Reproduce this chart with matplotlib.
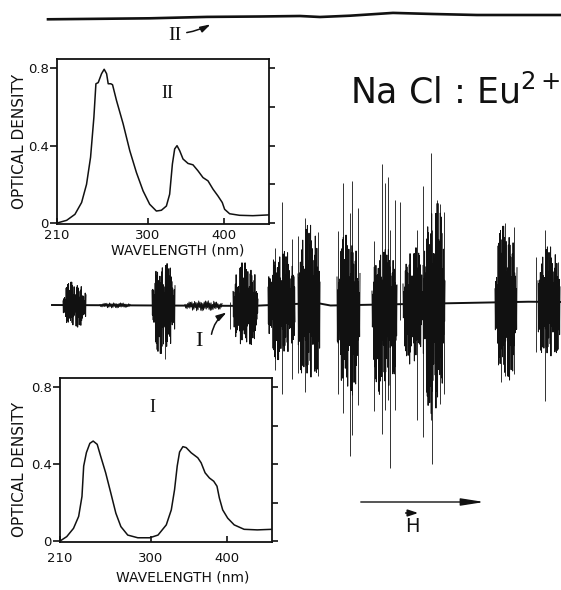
import numpy as np
import matplotlib
matplotlib.use('Agg')
import matplotlib.pyplot as plt

plt.rcParams['mathtext.default'] = 'regular'
ink = '#111111'
label_font = ['DejaVu Sans']

# absorption spectra (wavelength nm, optical density)
wl_II = [210, 219.6, 227.8, 234.4, 239.3, 243.3, 246.6, 248.6, 250.9, 254.2, 256.8, 259.2,
         260.8, 263.4, 265.1, 269, 275.6, 282.2, 288.8, 295.4, 302.6, 311.4, 318, 324.6,
         328.9, 332.5, 335.5, 338.6, 342.1, 346.5, 353.1, 359.6, 366.2, 372.8, 379.4, 386,
         392.5, 398.2, 401.3, 407.9, 421, 438.6, 459.6]
od_II = [0.0, 0.014, 0.045, 0.106, 0.20, 0.34, 0.547, 0.72, 0.726, 0.772, 0.795, 0.772,
         0.72, 0.72, 0.715, 0.634, 0.513, 0.374, 0.261, 0.166, 0.097, 0.062, 0.066, 0.088,
         0.149, 0.305, 0.383, 0.40, 0.374, 0.331, 0.308, 0.301, 0.27, 0.235, 0.218, 0.175,
         0.14, 0.106, 0.071, 0.048, 0.04, 0.038, 0.042]

wl_I = [210, 216.7, 223.4, 228.5, 231.8, 233.5, 236.2, 239.6, 242.9, 246.9, 250.3, 255.3,
        260.4, 265.4, 270.4, 277.2, 287.2, 299, 309.6, 320.5, 327.1, 331.4, 334.9, 338,
        342.4, 346.7, 353.3, 362, 366.4, 371.6, 377.3, 383, 387.3, 390.4, 394.8, 401.4,
        410, 423.1, 440.6, 460]
od_I = [0.0, 0.023, 0.066, 0.128, 0.232, 0.39, 0.46, 0.508, 0.52, 0.503, 0.442, 0.355,
        0.25, 0.145, 0.075, 0.031, 0.017, 0.017, 0.031, 0.084, 0.162, 0.267, 0.39, 0.463,
        0.491, 0.486, 0.459, 0.433, 0.407, 0.355, 0.328, 0.311, 0.285, 0.224, 0.162, 0.119,
        0.084, 0.061, 0.058, 0.061]

# recorder traces (field in chart units, signal level in chart units)
top_field = [48, 100, 150, 207, 260, 300, 320, 350, 393, 433, 477, 522, 561]
top_level = [19.3, 18.8, 18.3, 16.9, 16.5, 16, 17.0, 15.7, 12.9, 14, 15, 15, 15]

base_field = [52, 150, 250, 270, 317, 330, 483, 525, 561]
base_level = [305, 305.5, 306, 305, 303, 305.5, 302.7, 301.7, 302]

burst_start = [63, 152, 233, 268, 298, 337, 372, 403, 423, 495, 538]
burst_end = [86, 175, 258, 295, 320, 360, 397, 423, 445, 517, 560]
burst_up = [23, 42, 43, 53, 78, 70, 55, 56, 100, 76, 55]
burst_down = [22, 48, 40, 55, 82, 90, 90, 60, 110, 78, 60]

noise_start = [100, 185]
noise_end = [130, 222]
noise_amp = [2.5, 5]

spike_field = [165, 230, 275, 282, 292, 298, 305, 318, 338, 343, 350, 352, 358, 374, 382,
               385, 388, 390, 395, 400, 417, 423, 431, 432, 437, 440, 444, 501, 505, 514,
               536, 545, 558]
spike_up = [0, 4, 57, 102, 65, 68, 86, 71, 74, 122, 92, 124, 97, 64, 141, 121, 127, 74,
            104, 102, 74, 118, 151, 74, 104, 99, 91, 63, 79, 75, 45, 72, 40]
spike_down = [53, 23, 65, 90, 75, 69, 88, 73, 89, 108, 151, 130, 100, 106, 129, 106, 96,
              164, 106, 16, 116, 133, 116, 160, 90, 101, 91, 80, 74, 72, 50, 99, 47]

# hand-typed modulation of the recorder pen inside a burst
texture = [0.55, 0.9, 0.35, 1.0, 0.7, 0.45, 0.95, 0.6, 0.8, 0.3, 0.85, 1.0, 0.5, 0.75,
           0.9, 0.4, 0.65, 1.0, 0.55, 0.8, 0.95, 0.35, 0.7, 0.9, 0.6, 1.0, 0.45, 0.85,
           0.75, 0.5, 0.95, 0.65, 0.8, 0.4, 1.0, 0.7, 0.55, 0.9, 0.6, 0.85, 0.3, 0.75,
           1.0, 0.5, 0.8, 0.65, 0.9, 0.45]
taper_pos = [0, 0.12, 0.3, 0.7, 0.88, 1]
taper_val = [0.45, 0.8, 1, 1, 0.8, 0.5]

# non-linear wavelength axis of the spectrometer chart
ax_wl = [210, 300, 400, 460]
ax_pos = [0, 92, 169, 215]


def fwd(x):
    return np.interp(x, ax_wl, ax_pos)


def inv(x):
    return np.interp(x, ax_pos, ax_wl)


fig = plt.figure(figsize=(5.61, 5.90), dpi=100)
bg = fig.add_axes([0, 0, 1, 1])
bg.set_xlim(0, 561)
bg.set_ylim(590, 0)
bg.axis('off')

bg.plot(top_field, top_level, color=ink, lw=1.9)

bx = np.linspace(base_field[0], base_field[-1], 1200)
bg.plot(bx, np.interp(bx, base_field, base_level), color=ink, lw=1.4)

for s, e, a in zip(noise_start, noise_end, noise_amp):
    xs = np.linspace(s, e, int((e - s) * 1.5))
    amp = np.array([texture[i % len(texture)] for i in range(len(xs))]) * a
    amp *= np.interp(np.linspace(0, 1, len(xs)), taper_pos, taper_val)
    sign = np.where(np.arange(len(xs)) % 2 == 0, -1, 1)
    bg.plot(xs, np.interp(xs, base_field, base_level) + sign * amp, color=ink, lw=0.7)

for s, e, up, dn in zip(burst_start, burst_end, burst_up, burst_down):
    n = int((e - s) * 2.6)
    xs = np.linspace(s, e, n)
    tex = np.array([texture[(i * 7 + s) % len(texture)] for i in range(n)])
    tap = np.interp(np.linspace(0, 1, n), taper_pos, taper_val)
    amp = np.where(np.arange(n) % 2 == 0, -up, dn) * tex * tap
    bg.plot(xs, np.interp(xs, base_field, base_level) + amp, color=ink, lw=0.7)

sb = np.interp(spike_field, base_field, base_level)
bg.vlines(spike_field, sb - np.array(spike_up), sb + np.array(spike_down), color=ink, lw=0.6)

# labels on the recorder traces
bg.text(175, 35, 'II', family='Liberation Serif', fontsize=14, ha='center', va='center', color=ink)
bg.annotate('', xy=(213, 23), xytext=(184, 33),
            arrowprops=dict(arrowstyle='-|>,head_length=0.6,head_width=0.18', color=ink, lw=1.1,
                            connectionstyle='arc3,rad=0.1'))
bg.text(199, 341, 'I', family='Liberation Serif', fontsize=16, ha='center', va='center', color=ink)
bg.annotate('', xy=(229, 311), xytext=(211, 337),
            arrowprops=dict(arrowstyle='-|>,head_length=0.6,head_width=0.18', color=ink, lw=1.1,
                            connectionstyle='arc3,rad=-0.25'))

bg.text(350, 103, 'Na Cl : Eu$^{2+}$', family=label_font, fontsize=25, ha='left',
        va='baseline', color=ink)

bg.annotate('', xy=(487, 502), xytext=(358, 502),
            arrowprops=dict(arrowstyle='-|>,head_length=1.4,head_width=0.22', color=ink, lw=1.0))
bg.text(412, 527, 'H', family=label_font, fontsize=14, ha='center', va='center', color=ink)
bg.annotate('', xy=(421, 513), xytext=(403, 513),
            arrowprops=dict(arrowstyle='-|>,head_length=0.6,head_width=0.2', color=ink, lw=1.2))


def spectrum(rect, wl, od, roman, roman_xy, tick_pad, xl_xy, yl_xy):
    ax = fig.add_axes(rect)
    ax.set_xscale('function', functions=(fwd, inv))
    ax.plot(wl, od, color=ink, lw=1.1)
    ax.set_xlim(210, 460)
    ax.set_ylim(-0.005, 0.848)
    for sp in ax.spines.values():
        sp.set_linewidth(1.3)
        sp.set_color(ink)
    ax.set_xticks([210, 300, 400])
    ax.set_xticklabels(['210', '300', '400'])
    ax.xaxis.set_minor_locator(matplotlib.ticker.NullLocator())
    ax.set_yticks([0, 0.4, 0.8])
    ax.set_yticklabels(['0', '0.4', '0.8'])
    ax.tick_params(axis='x', direction='in', length=4.5, width=1.2, pad=tick_pad,
                   labelsize=9.5, colors=ink)
    ax.tick_params(axis='y', direction='out', length=5, width=1.2, pad=1,
                   labelsize=9.5, colors=ink)
    right = ax.secondary_yaxis('right')
    right.set_yticks([0, 0.2, 0.4, 0.6, 0.8])
    right.set_yticklabels([])
    right.tick_params(direction='out', length=4, width=1.2, colors=ink)
    right.spines['right'].set_visible(False)
    for lab in ax.get_xticklabels() + ax.get_yticklabels():
        lab.set_family(label_font)
    ax.text(*xl_xy, 'WAVELENGTH (nm)', transform=ax.transAxes, ha='center', va='center',
            family=label_font, fontsize=10, color=ink)
    ax.text(*yl_xy, 'OPTICAL DENSITY', transform=ax.transAxes, ha='center', va='center',
            rotation=90, family=label_font, fontsize=11, color=ink)
    ax.text(*roman_xy, roman, transform=ax.transAxes, ha='center', va='center',
            family='Liberation Serif', fontsize=13, color=ink)
    return ax


spectrum([57 / 561, 1 - 224 / 590, 212 / 561, 165 / 590], wl_II, od_II, 'II', (0.52, 0.79),
         3.5, (0.571, -0.16), (-0.179, 0.5))
spectrum([60 / 561, 1 - 542 / 590, 212 / 561, 164 / 590], wl_I, od_I, 'I', (0.435, 0.82),
         7.5, (0.58, -0.215), (-0.189, 0.445))

fig.savefig('out.png', dpi=100)
